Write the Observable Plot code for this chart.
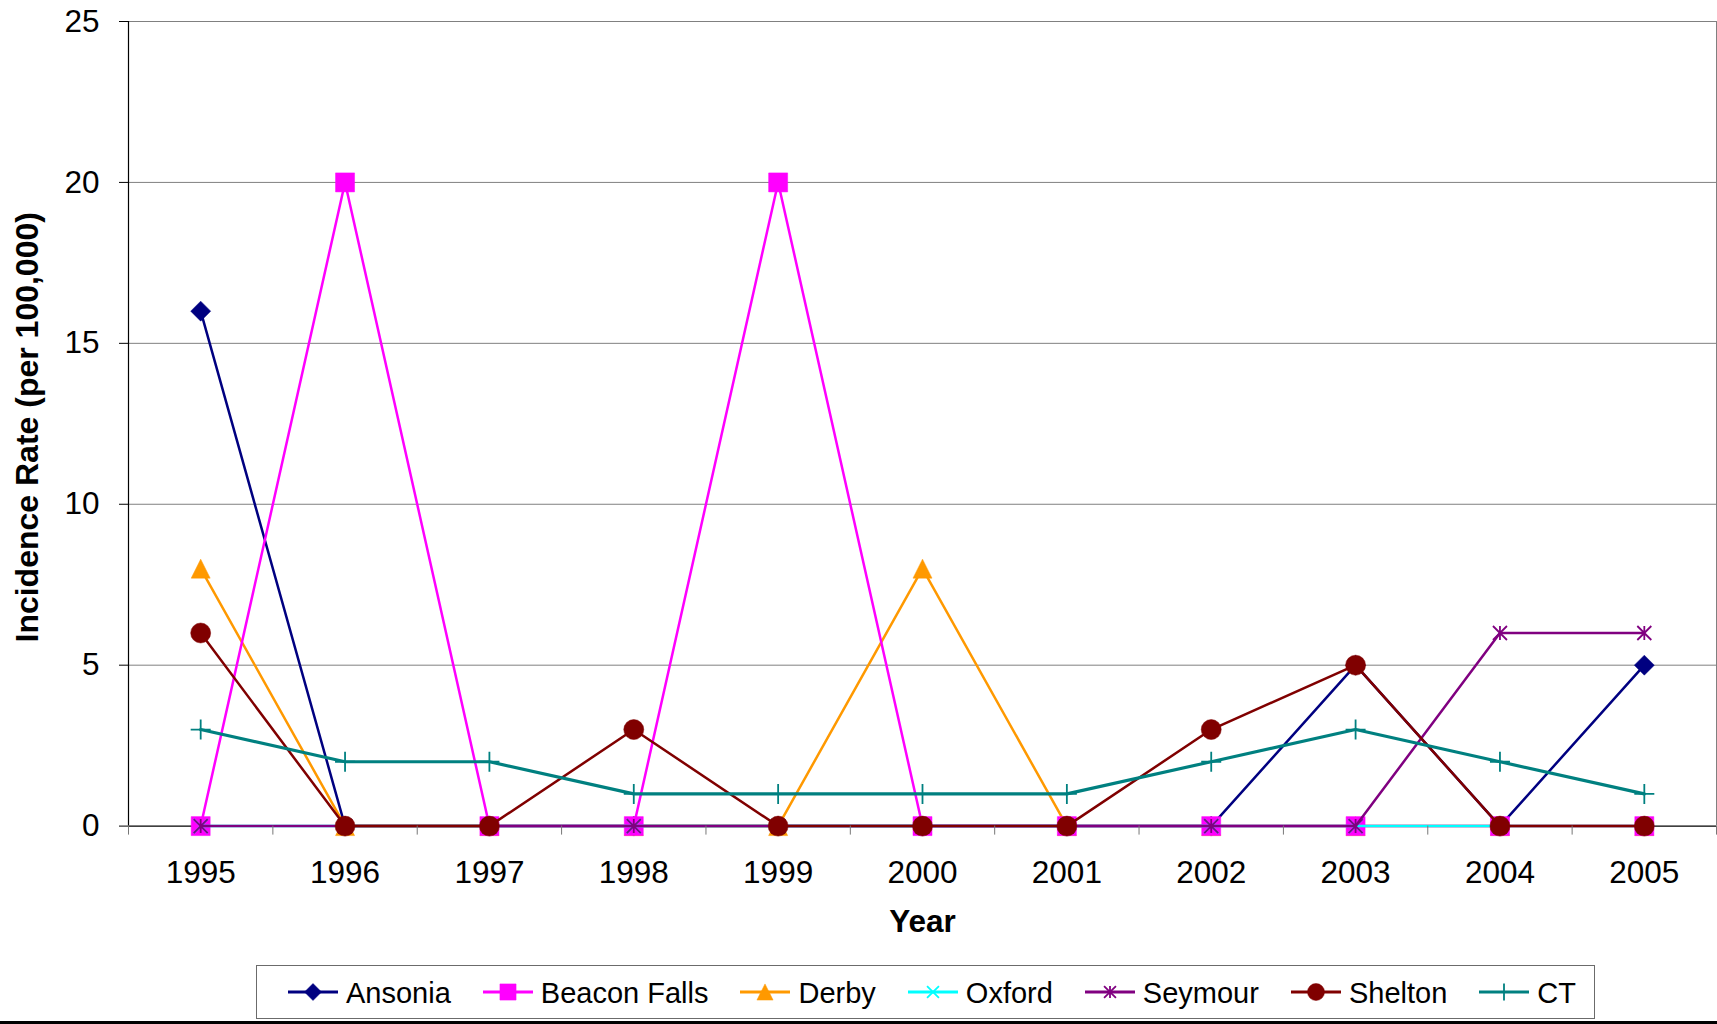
<!DOCTYPE html>
<html>
<head>
<meta charset="utf-8">
<script src="https://cdn.jsdelivr.net/npm/d3@7"></script>
<script src="https://cdn.jsdelivr.net/npm/@observablehq/plot@0.6"></script>
<style>
  html, body { margin: 0; padding: 0; background: #fff; }
  body { width: 1717px; height: 1024px; position: relative; overflow: hidden;
         font-family: Arial, "Liberation Sans", sans-serif; }
  #chart { position: absolute; left: 0; top: 0; }
  #legend { position: absolute; left: 256px; top: 965px; width: 1339px; height: 54px;
            box-sizing: border-box; border: 1.5px solid #6b6b6b; background: #fff;
            display: flex; align-items: center; padding-left: 31px; white-space: nowrap; }
  .item { display: flex; align-items: center; margin-right: 32px; flex: 0 0 auto; }
  .item svg { display: block; margin-right: 8px; flex: 0 0 auto; }
  .item span { font-size: 29px; color: #000; line-height: 1; position: relative; top: 1px; white-space: nowrap; }
  #bottom-rule { position: absolute; left: 0; top: 1021px; width: 1717px; height: 3px; background: #000; }
</style>
</head>
<body>
<div id="chart"></div>
<div id="legend"></div>
<div id="bottom-rule"></div>
<script>
// Incidence rate per 100,000 by town, 1995–2005
const years       = [1995, 1996, 1997, 1998, 1999, 2000, 2001, 2002, 2003, 2004, 2005];
const ansonia     = [16, 0, 0, 0, 0, 0, 0, 0, 5, 0, 5];
const beaconFalls = [0, 20, 0, 0, 20, 0, 0, 0, 0, 0, 0];
const derby       = [8, 0, 0, 0, 0, 8, 0, 0, 0, 0, 0];
const oxford      = [0, 0, 0, 0, 0, 0, 0, 0, 0, 0, 0];
const seymour     = [0, 0, 0, 0, 0, 0, 0, 0, 0, 6, 6];
const shelton     = [6, 0, 0, 3, 0, 0, 0, 3, 5, 0, 0];
const ct          = [3, 2, 2, 1, 1, 1, 1, 2, 3, 2, 1];
const seriesNames = ["Ansonia", "Beacon Falls", "Derby", "Oxford", "Seymour", "Shelton", "CT"];
const yTicks      = [0, 5, 10, 15, 20, 25];
const xTitle      = "Year";
const yTitle      = "Incidence Rate (per 100,000)";

// Marker shapes in the spreadsheet style (r = half of the marker box)
const rOf = size => Math.sqrt(size / Math.PI);
const shapes = {
  diamond: { draw(c, size) { const r = rOf(size); c.moveTo(0, -r); c.lineTo(r, 0); c.lineTo(0, r); c.lineTo(-r, 0); c.closePath(); } },
  square: { draw(c, size) { const r = rOf(size); c.rect(-r, -r, 2 * r, 2 * r); } },
  triangle: { draw(c, size) { const r = rOf(size); c.moveTo(0, -r); c.lineTo(r, r); c.lineTo(-r, r); c.closePath(); } },
  times: { draw(c, size) { const r = rOf(size); c.moveTo(-r, -r); c.lineTo(r, r); c.moveTo(-r, r); c.lineTo(r, -r); } },
  asterisk: { draw(c, size) { const r = rOf(size); c.moveTo(-r, -r); c.lineTo(r, r); c.moveTo(-r, r); c.lineTo(r, -r); c.moveTo(0, -r); c.lineTo(0, r); } },
  circle: { draw(c, size) { const r = rOf(size); c.moveTo(r, 0); c.arc(0, 0, r, 0, 2 * Math.PI); c.closePath(); } },
  plus: { draw(c, size) { const r = rOf(size); c.moveTo(-r, 0); c.lineTo(r, 0); c.moveTo(0, -r); c.lineTo(0, r); } }
};

const valuesByName = {
  "Ansonia": ansonia, "Beacon Falls": beaconFalls, "Derby": derby, "Oxford": oxford,
  "Seymour": seymour, "Shelton": shelton, "CT": ct
};
const styleByName = {
  "Ansonia":      { color: "#000080", shape: "diamond",  r: 10,  filled: true,  width: 2.5 },
  "Beacon Falls": { color: "#FF00FF", shape: "square",   r: 9.5, filled: true,  width: 2.5 },
  "Derby":        { color: "#FF9900", shape: "triangle", r: 9.5, filled: true,  width: 2.5 },
  "Oxford":       { color: "#00FFFF", shape: "times",    r: 7,   filled: false, width: 2.5 },
  "Seymour":      { color: "#800080", shape: "asterisk", r: 7,   filled: false, width: 2.5 },
  "Shelton":      { color: "#800000", shape: "circle",   r: 10,  filled: true,  width: 2.5 },
  "CT":           { color: "#008080", shape: "plus",     r: 10,  filled: false, width: 3.2 }
};
// Derby's markers sit beneath Beacon Falls' squares
const drawOrder = ["Ansonia", "Derby", "Beacon Falls", "Oxford", "Seymour", "Shelton", "CT"];

const xLo = years[0] - 0.5, xHi = years[years.length - 1] + 0.5;
const boundaries = years.map(y => y - 0.5).concat([xHi]);

const seriesMarks = drawOrder.flatMap(name => {
  const st = styleByName[name];
  const rows = years.map((year, i) => ({ year, value: valuesByName[name][i] }));
  return [
    Plot.line(rows, { x: "year", y: "value", stroke: st.color, strokeWidth: st.width, strokeLinejoin: "round" }),
    Plot.dot(rows, {
      x: "year", y: "value", symbol: shapes[st.shape], r: st.r,
      fill: st.filled ? st.color : "none",
      stroke: st.color, strokeWidth: st.filled ? 0.5 : 1.8
    })
  ];
});

const chart = Plot.plot({
  width: 1717,
  height: 950,
  marginLeft: 128,
  marginRight: 1,
  marginTop: 21,
  marginBottom: 124.4,
  style: { background: "#fff", fontFamily: "Arial, 'Liberation Sans', sans-serif", overflow: "visible", color: "#000" },
  x: { type: "linear", domain: [xLo, xHi] },
  y: { domain: [0, 25] },
  marks: [
    Plot.gridY(yTicks.filter(t => t > 0), { stroke: "#808080", strokeOpacity: 1, strokeWidth: 1 }),
    Plot.ruleX([xHi], { stroke: "#808080", strokeWidth: 1 }),
    Plot.ruleX([xLo], { stroke: "#000", strokeWidth: 1.2 }),
    Plot.ruleY([0], { stroke: "#000", strokeWidth: 1.2 }),
    ...seriesMarks,
    Plot.axisY(yTicks, { tickSize: 9, tickPadding: 20, fontSize: 31.5, color: "#000", label: null }),
    Plot.axisX(boundaries, { tickSize: 9, tickFormat: () => "", stroke: "#777", label: null }),
    Plot.axisX(years, { tickSize: 0, tickPadding: 35, tickFormat: d => String(d), fontSize: 31.5, color: "#000", label: null }),
    Plot.text([xTitle], { text: d => d, frameAnchor: "bottom", dy: 106, fontSize: 31.5, fontWeight: "bold", textAnchor: "middle", fill: "#000" }),
    Plot.text([yTitle], { text: d => d, frameAnchor: "left", rotate: -90, dx: -100.5, dy: 3.5, fontSize: 32, fontWeight: "bold", textAnchor: "middle", fill: "#000" })
  ]
});
document.getElementById("chart").appendChild(chart);

// Legend below the chart
const legend = d3.select("#legend");
seriesNames.forEach(name => {
  const st = styleByName[name];
  const item = legend.append("div").attr("class", "item");
  const sw = item.append("svg").attr("width", 50).attr("height", 22);
  sw.append("line").attr("x1", 0).attr("x2", 50).attr("y1", 11).attr("y2", 11)
    .attr("stroke", st.color).attr("stroke-width", 3);
  sw.append("path")
    .attr("d", d3.symbol(shapes[st.shape], Math.PI * Math.pow(st.r * 0.85, 2))())
    .attr("transform", "translate(25,11)")
    .attr("fill", st.filled ? st.color : "none")
    .attr("stroke", st.color)
    .attr("stroke-width", st.filled ? 0.5 : 1.8);
  item.append("span").text(name);
});
</script>
</body>
</html>
